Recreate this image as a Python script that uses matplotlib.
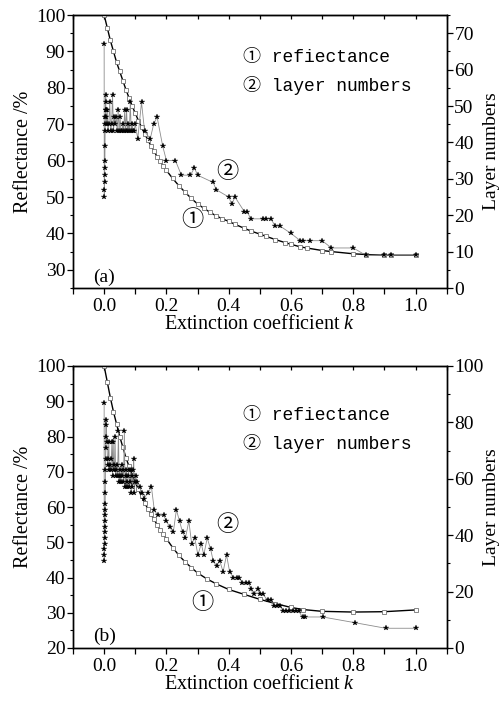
import matplotlib
matplotlib.use("Agg")
import matplotlib.pyplot as plt
from matplotlib.ticker import MultipleLocator

plt.rcParams['font.family'] = ['Liberation Serif', 'DejaVu Serif']
plt.rcParams['mathtext.fontset'] = 'custom'
plt.rcParams['mathtext.it'] = 'Liberation Serif:italic'

# ---- panel (a) ----
# layer numbers (stars), right axis
ka = [0.0000, 0.0004, 0.0008, 0.0012, 0.0016, 0.0020, 0.0024, 0.0028, 0.0032,
      0.0036, 0.0040, 0.0044, 0.0048, 0.0052, 0.0056, 0.0060,
      0.008, 0.010, 0.012, 0.015, 0.018, 0.021, 0.024, 0.027, 0.030, 0.033,
      0.036, 0.039, 0.042, 0.045, 0.048, 0.051, 0.054, 0.057, 0.060, 0.063,
      0.066, 0.069, 0.072, 0.075, 0.078, 0.081, 0.084, 0.087, 0.090, 0.093,
      0.096, 0.100, 0.108, 0.12, 0.13, 0.148, 0.159, 0.17, 0.188, 0.2,
      0.229, 0.248, 0.277, 0.29, 0.3, 0.35, 0.36, 0.4, 0.41, 0.42, 0.45,
      0.46, 0.47, 0.51, 0.52, 0.535, 0.55, 0.565, 0.6, 0.63, 0.64, 0.66,
      0.7, 0.73, 0.8, 0.84, 0.9, 0.92, 1.0]
La = [67, 25, 27, 29, 31, 33, 35, 39, 43, 45, 47, 49, 51, 53, 49, 47,
      45, 49, 43, 45, 51, 43, 45, 53, 43, 47,
      45, 47, 43, 49, 43, 47, 43, 43, 45, 43,
      49, 43, 49, 43, 45, 43, 51, 43, 45, 43,
      43, 45, 41, 51, 43, 41, 45, 47, 39, 35,
      35, 31, 31, 33, 31, 29, 27, 25, 23, 25, 21,
      21, 19, 19, 19, 19, 17, 17, 15, 13, 13, 13,
      13, 11, 11, 9, 9, 9, 9]
# reflectance (squares), left axis
kra = [0.0, 0.01, 0.02, 0.03, 0.04, 0.05, 0.06, 0.07, 0.08, 0.09, 0.10,
       0.11, 0.12, 0.13, 0.14, 0.15, 0.16, 0.17, 0.18, 0.19, 0.20, 0.22,
       0.24, 0.26, 0.28, 0.30, 0.32, 0.34, 0.36, 0.38, 0.40, 0.42, 0.45,
       0.47, 0.50, 0.52, 0.55, 0.58, 0.60, 0.63, 0.65, 0.70, 0.73, 0.80,
       0.84, 0.90, 0.92, 1.00]
Ra = [100, 96.5, 93, 90, 87, 84.5, 82, 79.5, 77.2, 75, 73,
      71, 69.2, 67.4, 65.7, 64.1, 62.6, 61.1, 59.8, 58.5, 57.3, 55.1,
      53.1, 51.3, 49.6, 48.1, 46.9, 45.8, 44.8, 44.0, 43.3, 42.5, 41.4,
      40.7, 39.8, 39.2, 38.3, 37.5, 37.0, 36.3, 36.0, 35.3, 35.0, 34.4,
      34.2, 34.0, 34.0, 34.0]

# ---- panel (b) ----
kb = [0.0000, 0.0003, 0.0006, 0.0009, 0.0012, 0.0015, 0.0018, 0.0021, 0.0024,
      0.0027, 0.0030, 0.0033, 0.0036, 0.0039, 0.0042, 0.0045, 0.0048, 0.0051,
      0.0054,
      0.007, 0.009, 0.011, 0.013, 0.015, 0.017, 0.019, 0.021, 0.023, 0.025,
      0.027, 0.029, 0.031, 0.033, 0.035, 0.037, 0.039, 0.041, 0.043, 0.046,
      0.048, 0.050, 0.052, 0.054, 0.056, 0.058, 0.060, 0.062, 0.065, 0.067,
      0.069, 0.071, 0.073, 0.075, 0.077, 0.079, 0.081, 0.083, 0.085, 0.087,
      0.089, 0.091, 0.093, 0.095, 0.097, 0.099, 0.101,
      0.105, 0.115, 0.121, 0.128, 0.14, 0.152, 0.161, 0.172, 0.191, 0.2,
      0.21, 0.222, 0.232, 0.242, 0.252, 0.261, 0.272, 0.281, 0.291, 0.301,
      0.312, 0.32, 0.331, 0.342, 0.35, 0.361, 0.371, 0.382, 0.393, 0.403,
      0.415, 0.426, 0.434, 0.444, 0.455, 0.464, 0.471, 0.48, 0.493, 0.5,
      0.51, 0.525, 0.535, 0.545, 0.555, 0.565, 0.575, 0.585, 0.595, 0.605,
      0.615, 0.625, 0.637, 0.645, 0.702, 0.804, 0.904, 1.0]
Lb = [87, 31, 33, 35, 37, 39, 41, 43, 45, 47, 49, 51, 55, 59, 63, 67, 71, 75,
      81,
      79, 73, 65, 67, 73, 63, 65, 63, 67, 73,
      61, 73, 63, 65, 75, 61, 63, 65, 61, 77,
      59, 63, 61, 59, 65, 61, 63, 59, 77, 57,
      61, 63, 57, 59, 61, 63, 57, 59, 63, 55,
      61, 57, 63, 67, 55, 59, 61,
      59, 57, 55, 53, 55, 57, 49, 47, 47, 45,
      43, 41, 49, 45, 41, 39, 45, 37, 39, 33,
      37, 33, 39, 35, 31, 29, 31, 27, 33, 27,
      25, 25, 25, 23, 23, 23, 21, 19, 21, 19,
      19, 17, 17, 15, 15, 15, 13, 13, 13, 13,
      13, 13, 11, 11, 11, 9, 7, 7]
krb = [0.0, 0.01, 0.02, 0.03, 0.04, 0.05, 0.06, 0.07, 0.08, 0.09, 0.10,
       0.11, 0.12, 0.13, 0.14, 0.15, 0.16, 0.17, 0.18, 0.19, 0.20, 0.22,
       0.24, 0.26, 0.28, 0.30, 0.33, 0.36, 0.40, 0.45, 0.50, 0.55, 0.60,
       0.64, 0.70, 0.80, 0.90, 1.00]
Rb = [100, 95.5, 91, 87, 83.5, 80, 77, 74, 71.5, 69, 67,
      65, 63, 61.2, 59.5, 58, 56.5, 55, 53.5, 52.2, 51, 48.5,
      46.3, 44.4, 42.8, 41.3, 39.6, 38.2, 36.6, 35.2, 33.8, 32.6, 31.5,
      30.9, 30.4, 30.2, 30.3, 30.8]

panels = [
    dict(k=ka, L=La, kr=kra, R=Ra, ylim=(25, 100), ylim2=(0, 75), ymaj2=10,
         tag="(a)", tagy=28, lab1=(0.283, 43.7), lab2=(0.396, 57),
         rect=[73/502, 1-288/704, 373.7/502, 273/704], leg=(0.845, 0.74)),
    dict(k=kb, L=Lb, kr=krb, R=Rb, ylim=(20, 100), ylim2=(0, 100), ymaj2=20,
         tag="(b)", tagy=23.2, lab1=(0.315, 33.0), lab2=(0.396, 55),
         rect=[73/502, 56/704, 373.7/502, 282/704], leg=(0.826, 0.726)),
]

circ = ['Noto Sans CJK SC', 'DejaVu Sans']
mono = ['Liberation Mono', 'Noto Sans CJK SC', 'DejaVu Sans']

fig = plt.figure(figsize=(5.02, 7.04), dpi=100)

for p in panels:
    ax = fig.add_axes(p["rect"])
    ax2 = ax.twinx()

    # reflectance curve
    ax.plot(p["kr"], p["R"], color="black", lw=1.0, marker="s", ms=2.6,
            mfc="white", mec="0.45", mew=0.6, zorder=3)
    # layer numbers
    ax2.plot(p["k"], p["L"], color="0.55", lw=0.6, marker="*", ms=4.3,
             mfc="black", mec="black", mew=0.2, zorder=3)

    ax.set_xlim(-0.1, 1.1)
    ax.set_ylim(*p["ylim"])
    ax2.set_ylim(*p["ylim2"])

    ax.xaxis.set_major_locator(MultipleLocator(0.2))
    ax.xaxis.set_minor_locator(MultipleLocator(0.1))
    ax.yaxis.set_major_locator(MultipleLocator(10))
    ax.yaxis.set_minor_locator(MultipleLocator(5))
    ax2.yaxis.set_major_locator(MultipleLocator(p["ymaj2"]))
    ax2.yaxis.set_minor_locator(MultipleLocator(p["ymaj2"] / 2))

    ax.tick_params(axis="x", which="both", direction="out", top=False,
                   labelsize=14, length=4, width=0.9, pad=3)
    ax.tick_params(axis="y", which="major", direction="out", length=4,
                   width=0.9, labelsize=14, pad=1.5)
    ax.tick_params(axis="y", which="minor", direction="out", length=2.5,
                   width=0.8)
    ax2.tick_params(axis="y", which="major", direction="out", length=4,
                    width=0.9, labelsize=14, pad=1.5)
    ax2.tick_params(axis="y", which="minor", direction="out", length=2.5,
                    width=0.8)
    # inward ticks along top edge
    secx = ax.secondary_xaxis("top")
    secx.xaxis.set_major_locator(MultipleLocator(0.1))
    secx.tick_params(direction="in", length=3, width=0.9, labeltop=False)

    for a in (ax, ax2):
        for s in a.spines.values():
            s.set_linewidth(1.0)

    ax.set_xticks([0.0, 0.2, 0.4, 0.6, 0.8, 1.0])
    ax.set_xticklabels(["0.0", "0.2", "0.4", "0.6", "0.8", "1.0"])

    ax.set_xlabel("Extinction coefficient $\\mathit{k}$", fontsize=14.5,
                  labelpad=0)
    ax.set_ylabel("Reflectance /%", fontsize=14.5, labelpad=2)
    ax2.set_ylabel("Layer numbers", fontsize=14)
    ax2.yaxis.set_label_coords(1.098, 0.5)

    ax.text(0.0, p["tagy"], p["tag"], fontsize=14, ha="center",
            va="center")
    ax.text(p["lab1"][0], p["lab1"][1], "\u2460", fontsize=16,
            family=circ, ha="center", va="center")
    ax.text(p["lab2"][0], p["lab2"][1], "\u2461", fontsize=16,
            family=circ, ha="center", va="center")
    ax.text(0.455, p["leg"][0], "\u2460 refiectance", fontsize=13,
            family=mono, transform=ax.transAxes, va="center")
    ax.text(0.455, p["leg"][1], "\u2461 layer numbers", fontsize=13,
            family=mono, transform=ax.transAxes, va="center")

fig.savefig("out.png", dpi=100)
